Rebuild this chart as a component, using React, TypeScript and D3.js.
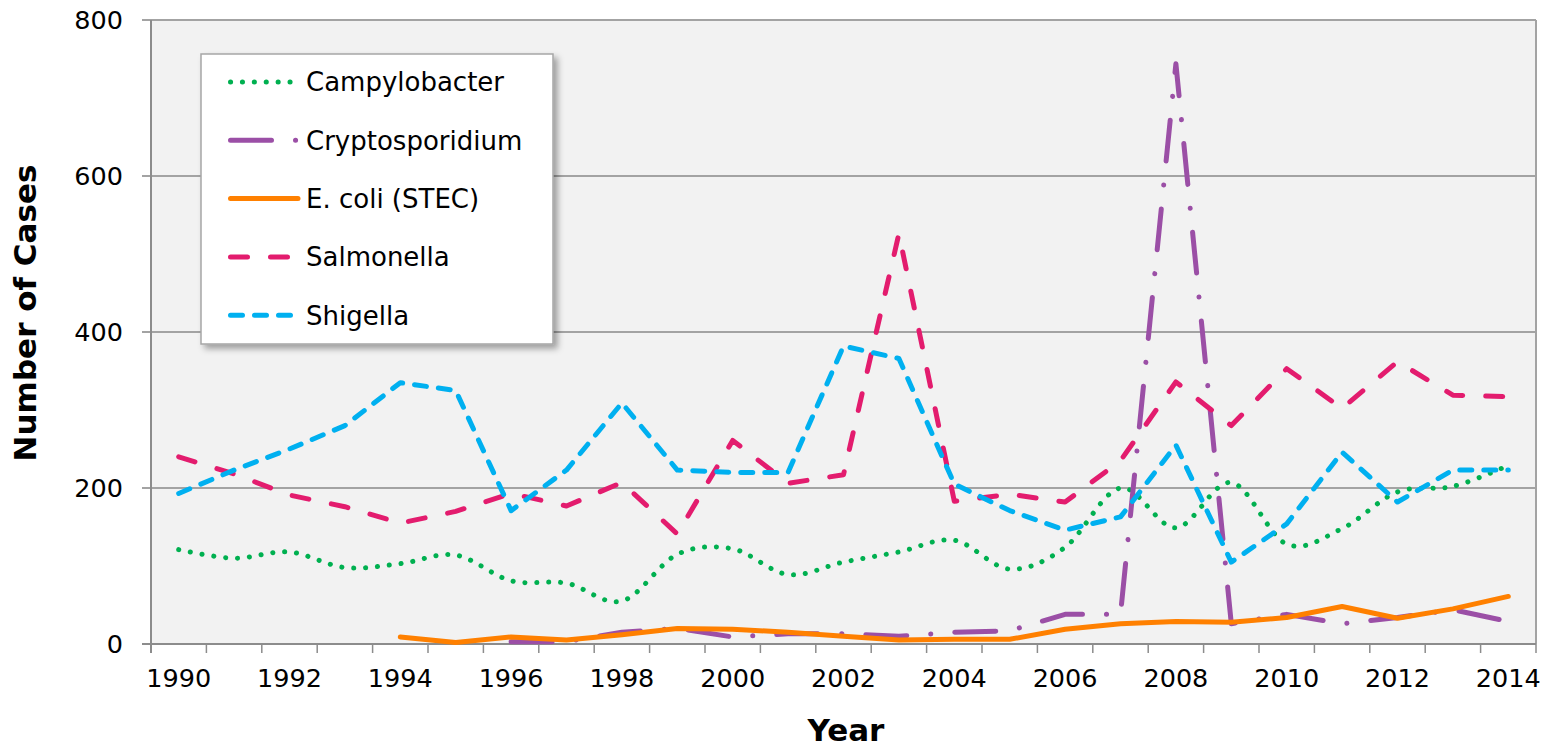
import React from "react";
import * as d3 from "d3";

const years = [1990,1991,1992,1993,1994,1995,1996,1997,1998,1999,2000,2001,2002,2003,2004,2005,2006,2007,2008,2009,2010,2011,2012,2013,2014];
const yearLabels = [1990,1992,1994,1996,1998,2000,2002,2004,2006,2008,2010,2012,2014];
const yTicks = [0,200,400,600,800];

const campylobacter = [121,110,118,98,103,114,81,78,55,115,122,89,105,118,133,96,124,200,149,207,128,148,195,202,229];
const cryptosporidium = [null,null,null,null,null,null,3,3,15,20,9,13,13,10,15,17,38,38,744,26,38,26,34,44,29];
const ecoli = [null,null,null,null,9,2,9,5,12,20,19,15,10,5,6,6,19,26,29,28,34,48,33,45,61];
const salmonella = [240,218,191,176,155,170,193,177,207,141,261,206,217,526,183,192,182,235,336,280,353,302,362,319,317];
const shigella = [193,223,250,280,335,325,171,223,309,223,220,220,382,366,205,171,146,163,255,105,154,246,182,223,223];

const seriesNames = ["Campylobacter","Cryptosporidium","E. coli (STEC)","Salmonella","Shigella"];
const seriesValues = [campylobacter, cryptosporidium, ecoli, salmonella, shigella];
const seriesColors = ["#00b050","#9b4fa6","#ff8000","#e31c6e","#00b0f0"];
const seriesDash = ["0.1 11.8","41 24 0.1 24",null,"17 23","12 12"];
const seriesSmooth = [true,false,false,false,false];

const W = 1557, H = 748;
const plot = { left: 151, right: 1536, top: 20, bottom: 644 };
const FONT = "'DejaVu Sans', Verdana, sans-serif";

export default function App() {
  const x = d3.scaleBand<number>().domain(years).range([plot.left, plot.right]).padding(0);
  const y = d3.scaleLinear().domain([0, 800]).range([plot.bottom, plot.top]);
  const cx = (yr: number) => (x(yr) as number) + x.bandwidth() / 2;

  const boundaries = years.map((yr) => x(yr) as number).concat([plot.right]);

  const legend = { x: 201, y: 54, w: 352, h: 290 };
  const rowY = (i: number) => 82 + i * 58.3;

  return (
    <svg width={W} height={H} style={{ position: "absolute", left: 0, top: 0, background: "#fff" }}>
      <defs>
        <filter id="shadow" x="-10%" y="-10%" width="130%" height="130%">
          <feDropShadow dx="4" dy="4" stdDeviation="3" floodColor="#000" floodOpacity="0.35" />
        </filter>
      </defs>
      <rect x={plot.left} y={plot.top} width={plot.right - plot.left} height={plot.bottom - plot.top} fill="#f2f2f2" />
      {yTicks.map((t) => (
        <g key={t}>
          <line x1={142} x2={plot.right} y1={y(t)} y2={y(t)} stroke="#a3a3a3" strokeWidth={2} />
          <text x={123} y={y(t)} dy="0.36em" textAnchor="end" fontFamily={FONT} fontSize={25.5} fill="#000">{t}</text>
        </g>
      ))}
      <line x1={plot.right} x2={plot.right} y1={plot.top} y2={plot.bottom} stroke="#a3a3a3" strokeWidth={2} />
      <line x1={plot.left} x2={plot.left} y1={plot.top} y2={plot.bottom + 9} stroke="#8c8c8c" strokeWidth={2} />
      {boundaries.map((bx, i) => (
        <line key={i} x1={bx} x2={bx} y1={plot.bottom} y2={plot.bottom + 9} stroke="#8c8c8c" strokeWidth={1.5} />
      ))}
      <line x1={142} x2={plot.right} y1={plot.bottom} y2={plot.bottom} stroke="#8c8c8c" strokeWidth={2} />
      {yearLabels.map((yr) => (
        <text key={yr} x={cx(yr)} y={687} textAnchor="middle" fontFamily={FONT} fontSize={25.5} fill="#000">{yr}</text>
      ))}
      <text x={846} y={741} textAnchor="middle" fontFamily={FONT} fontWeight="bold" fontSize={31} fill="#000">Year</text>
      <text transform={`translate(36,313) rotate(-90)`} textAnchor="middle" fontFamily={FONT} fontWeight="bold" fontSize={31} fill="#000">Number of Cases</text>

      {seriesValues.map((vals, si) => {
        const gen = d3.line<number | null>()
          .defined((d) => d !== null)
          .x((_, i) => cx(years[i]))
          .y((d) => y(d as number))
          .curve(seriesSmooth[si] ? d3.curveCardinal.tension(0) : d3.curveLinear);
        return (
          <path key={si} d={gen(vals as (number | null)[]) || ""} fill="none" stroke={seriesColors[si]} strokeWidth={5}
            strokeLinecap="round" strokeLinejoin="round" strokeDasharray={seriesDash[si] || undefined} />
        );
      })}

      <g>
        <rect x={legend.x} y={legend.y} width={legend.w} height={legend.h} fill="#fff" stroke="#a6a6a6" strokeWidth={1.5} filter="url(#shadow)" />
        {seriesNames.map((name, i) => (
          <g key={name}>
            <line x1={230.5} x2={298} y1={rowY(i)} y2={rowY(i)} stroke={seriesColors[i]} strokeWidth={5}
              strokeLinecap="round" strokeDasharray={seriesDash[i] || undefined} />
            <text x={306} y={rowY(i)} dy="0.36em" fontFamily={FONT} fontSize={26} fill="#000">{name}</text>
          </g>
        ))}
      </g>
    </svg>
  );
}
